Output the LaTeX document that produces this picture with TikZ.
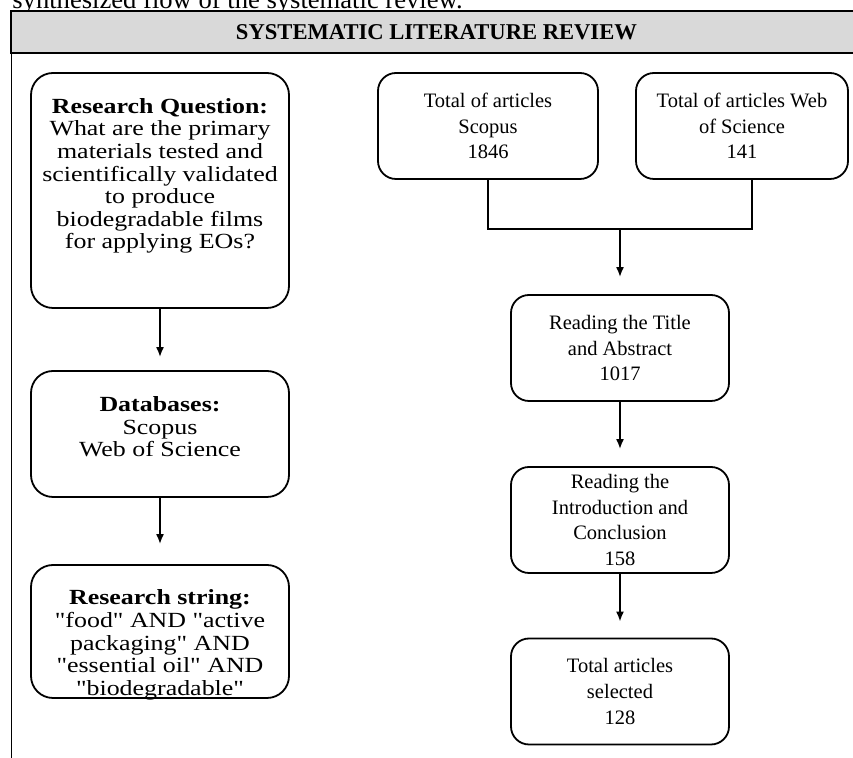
\documentclass[tikz,border=0pt]{standalone}
\usepackage{fontspec}
\setmainfont{Liberation Serif}
\newfontfamily\widefont[FakeStretch=1.2]{Liberation Serif}
\usetikzlibrary{arrows.meta}

\definecolor{headgray}{HTML}{D9D9D9}

% text block of a left box, lifted by #1
\newcommand{\liftedtext}[2]{\raisebox{#1}[0pt][0pt]{\parbox[c]{125pt}{\centering #2}}}

\tikzset{
  leftbox/.style={draw, rounded corners=11pt, line width=0.9pt, inner sep=0pt,
    minimum width=129pt, minimum height=#1,
    font=\widefont\fontsize{10.8}{11.3}\selectfont},
  rightbox/.style={draw, rounded corners=9pt, line width=0.9pt, align=center,
    minimum height=53pt, font=\fontsize{10.25}{12.85}\selectfont},
  arr/.style={-{Latex[length=5pt,width=4pt]}, line width=0.9pt},
}

\begin{document}
\begin{tikzpicture}[x=0.5pt,y=-0.5pt]
\useasboundingbox (0,0) rectangle (853,758);
\clip (0,0) rectangle (853,758);

% caption line cut by the top edge
\node[anchor=base west, inner sep=0pt, font=\fontsize{13.3}{16}\selectfont] (caption) at (12,9)
  {synthesized flow of the systematic review.};

% frame and header
\draw[line width=0.8pt] (11.5,30) -- (11.5,770);
\node[draw, fill=headgray, line width=1pt, inner sep=0pt, minimum width=425.5pt, minimum height=21pt,
  font=\bfseries\fontsize{11.3}{13}\selectfont] (head) at (436.5,32) {SYSTEMATIC LITERATURE REVIEW};

% left column
\node[leftbox=117.5pt] (rq) at (160,190.5) {\liftedtext{4.5pt}{\textbf{Research Question:}\\
  What are the primary\\ materials tested and\\ scientifically validated\\ to produce\\
  biodegradable films\\ for applying EOs?}};
\node[leftbox=63pt] (db) at (160,434) {\liftedtext{0.8pt}{\textbf{Databases:}\\ Scopus\\ Web of Science}};
\node[leftbox=66.5pt] (rs) at (160,631.5) {\liftedtext{-9.5pt}{\textbf{Research string:}\\
  "food" AND "active\\ packaging" AND\\ "essential oil" AND\\ "biodegradable"}};

\draw[arr, shorten >=6.5pt] (rq) -- (db);
\draw[arr, shorten >=10pt] (db) -- (rs);

% right column
\node[rightbox, minimum width=110pt] (scopus) at (488,126) {Total of articles\\ Scopus\\ 1846};
\node[rightbox, minimum width=106pt] (wos) at (742,126) {Total of articles Web\\ of Science\\ 141};
\node[rightbox, minimum width=109pt] (title) at (620,348) {Reading the Title\\ and Abstract\\ 1017};
\node[rightbox, minimum width=109pt] (intro) at (620,520) {Reading the\\ Introduction and\\ Conclusion\\ 158};
\node[rightbox, minimum width=109pt] (total) at (620,691.5) {Total articles\\ selected\\ 128};

\coordinate (join) at (620,229);
\draw[line width=0.9pt] (scopus) |- (join) -| ([xshift=5pt]wos.south);
\draw[arr, shorten >=8.5pt] (join) -- (title);
\draw[arr, shorten >=8.5pt] (title) -- (intro);
\draw[arr, shorten >=8pt] (intro) -- (total);
\end{tikzpicture}
\end{document}
